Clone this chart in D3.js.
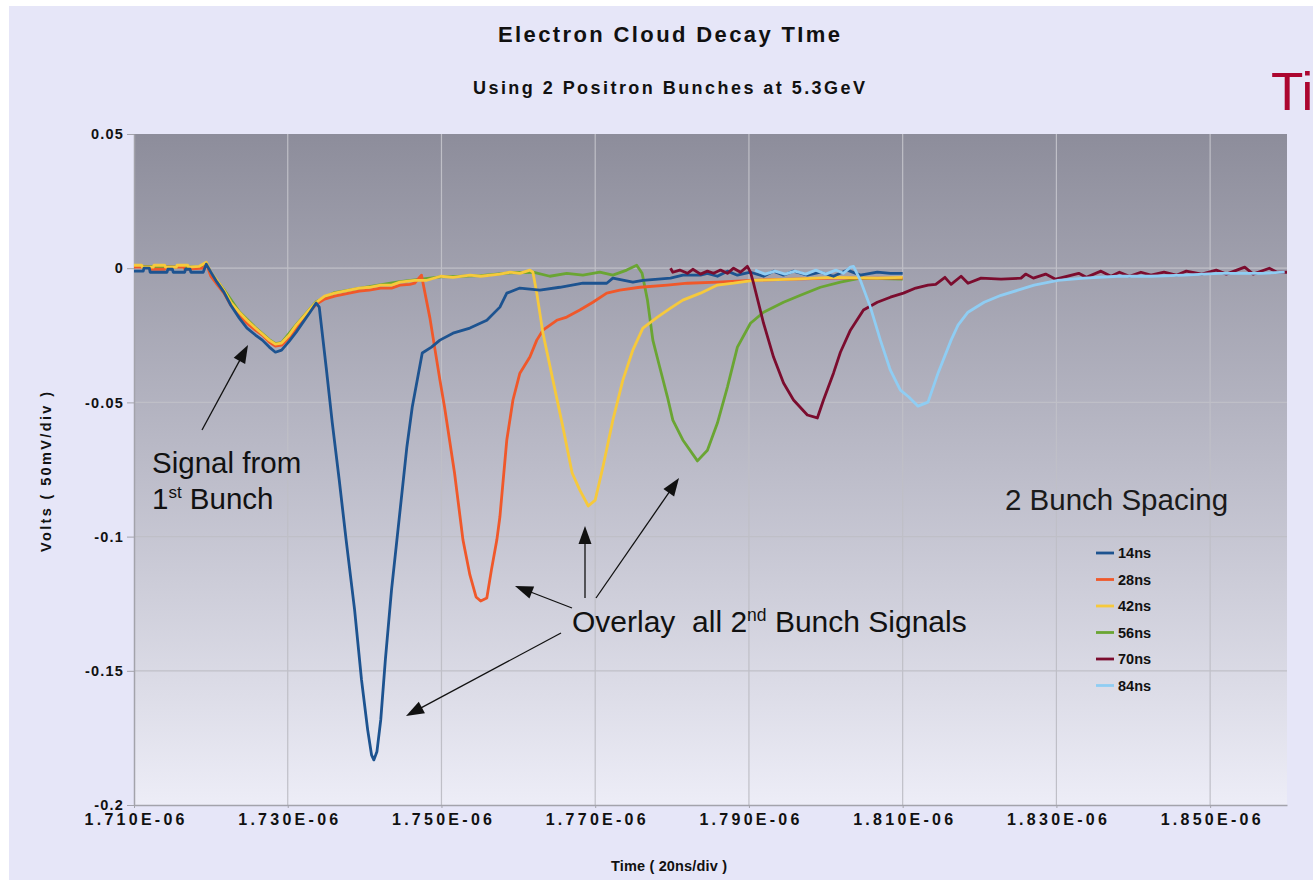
<!DOCTYPE html>
<html>
<head>
<meta charset="utf-8">
<script src="https://cdn.jsdelivr.net/npm/d3@7"></script>
<style>
  body { margin: 0; background: #fff; }
  text { font-family: "Liberation Sans", Arial, sans-serif; }
</style>
</head>
<body>
<script>
'use strict';

// times are in ns (1710 = 1.710E-06 s), values in volts
const seriesNames = ["14ns", "28ns", "42ns", "56ns", "70ns", "84ns"];
const seriesColors = ["#1d5390", "#f0582a", "#f6c93c", "#6aa533", "#7b0c2e", "#8fcdf3"];
// drawing order, back to front
const drawOrder = [3, 1, 2, 0, 4, 5];

const xTicks = [1710, 1730, 1750, 1770, 1790, 1810, 1830, 1850];
const xTickLabels = ["1.710E-06", "1.730E-06", "1.750E-06", "1.770E-06", "1.790E-06", "1.810E-06", "1.830E-06", "1.850E-06"];
const yTicks = [0.05, 0, -0.05, -0.1, -0.15, -0.2];
const yTickLabels = ["0.05", "0", "-0.05", "-0.1", "-0.15", "-0.2"];

const trace14 = [
  [1710.0,-0.0011],[1711.2,-0.0011],[1711.3,0.0000],[1712.0,0.0000],[1712.1,-0.0015],[1714.3,-0.0015],
  [1714.4,-0.0004],[1715.0,-0.0004],[1715.1,-0.0015],[1716.6,-0.0015],[1716.7,-0.0004],[1717.3,-0.0004],
  [1717.4,-0.0015],[1719.0,-0.0015],[1719.4,0.0015],[1720.0,-0.0015],[1720.8,-0.0052],[1721.7,-0.0089],
  [1722.6,-0.0138],[1723.7,-0.0186],[1724.7,-0.0223],[1725.8,-0.0249],[1726.7,-0.0268],[1727.6,-0.0294],
  [1728.4,-0.0313],[1729.2,-0.0305],[1730.2,-0.0272],[1731.1,-0.0238],[1732.0,-0.0201],[1732.9,-0.0164],
  [1733.7,-0.0130],[1734.1,-0.0145],[1735.0,-0.0369],[1735.8,-0.0577],[1736.7,-0.0789],[1737.6,-0.1013],
  [1738.7,-0.1273],[1739.6,-0.1534],[1740.4,-0.1720],[1740.9,-0.1813],[1741.2,-0.1832],[1741.6,-0.1802],
  [1742.1,-0.1683],[1742.7,-0.1459],[1743.5,-0.1199],[1744.2,-0.1013],[1745.5,-0.0666],[1746.2,-0.0517],
  [1747.5,-0.0316],[1748.7,-0.0294],[1749.8,-0.0268],[1751.5,-0.0242],[1753.7,-0.0223],[1755.9,-0.0194],
  [1757.6,-0.0145],[1758.5,-0.0093],[1760.2,-0.0074],[1762.8,-0.0082],[1765.4,-0.0071],[1768.4,-0.0056],
  [1771.5,-0.0056],[1772.3,-0.0037],[1774.9,-0.0052],[1776.2,-0.0045],[1779.8,-0.0037],[1781.4,-0.0026],
  [1783.7,-0.0026],[1784.6,-0.0019],[1785.9,-0.0030],[1787.2,-0.0011],[1788.5,-0.0026],[1790.2,-0.0015],
  [1791.9,-0.0030],[1793.2,-0.0011],[1794.5,-0.0026],[1795.8,-0.0011],[1797.6,-0.0026],[1799.3,-0.0015],
  [1801.0,-0.0030],[1802.8,-0.0007],[1804.5,-0.0026],[1806.7,-0.0015],[1808.4,-0.0019],[1810.0,-0.0019]
];

const trace28 = [
  [1710.0,0.0004],[1712.0,0.0004],[1712.1,-0.0004],[1714.0,-0.0004],[1714.1,0.0004],[1716.5,0.0004],
  [1716.6,-0.0004],[1719.0,0.0000],[1719.4,0.0018],[1720.0,-0.0030],[1720.8,-0.0060],[1721.7,-0.0093],
  [1722.6,-0.0138],[1723.7,-0.0175],[1724.7,-0.0205],[1725.8,-0.0231],[1726.7,-0.0249],[1727.6,-0.0275],
  [1728.4,-0.0290],[1729.2,-0.0287],[1730.2,-0.0257],[1731.1,-0.0223],[1732.0,-0.0190],[1732.9,-0.0160],
  [1733.7,-0.0135],[1734.8,-0.0115],[1736.1,-0.0104],[1738.0,-0.0093],[1739.3,-0.0085],[1740.6,-0.0082],
  [1742.1,-0.0074],[1743.5,-0.0074],[1744.6,-0.0063],[1745.9,-0.0060],[1746.5,-0.0056],[1747.4,-0.0026],
  [1748.5,-0.0186],[1749.8,-0.0417],[1750.4,-0.0517],[1751.7,-0.0763],[1752.8,-0.1013],[1753.7,-0.1143],
  [1754.5,-0.1225],[1755.1,-0.1240],[1755.9,-0.1229],[1756.5,-0.1124],[1757.2,-0.1013],[1757.6,-0.0927],
  [1758.5,-0.0640],[1759.3,-0.0491],[1760.2,-0.0391],[1761.5,-0.0331],[1762.4,-0.0268],[1763.2,-0.0231],
  [1765.0,-0.0194],[1766.3,-0.0182],[1768.0,-0.0156],[1769.7,-0.0127],[1771.5,-0.0093],[1773.2,-0.0082],
  [1775.8,-0.0071],[1779.4,-0.0063],[1782.0,-0.0056],[1785.9,-0.0052],[1790.2,-0.0045],[1795.8,-0.0041],
  [1801.0,-0.0037],[1806.7,-0.0037],[1810.0,-0.0037]
];

const trace42 = [
  [1710.0,0.0011],[1711.0,0.0011],[1711.1,0.0004],[1712.5,0.0004],[1712.6,0.0011],[1714.0,0.0011],
  [1714.1,0.0004],[1715.5,0.0004],[1715.6,0.0011],[1717.0,0.0011],[1717.1,0.0004],[1718.5,0.0007],
  [1719.4,0.0022],[1720.0,-0.0015],[1720.8,-0.0045],[1721.7,-0.0082],[1722.6,-0.0127],[1723.7,-0.0164],
  [1724.7,-0.0194],[1725.8,-0.0223],[1726.7,-0.0245],[1727.6,-0.0268],[1728.4,-0.0283],[1729.2,-0.0279],
  [1730.2,-0.0249],[1731.1,-0.0212],[1732.0,-0.0182],[1732.9,-0.0152],[1733.7,-0.0127],[1734.8,-0.0104],
  [1736.1,-0.0093],[1738.0,-0.0082],[1739.3,-0.0074],[1740.6,-0.0071],[1742.1,-0.0063],[1743.5,-0.0063],
  [1744.6,-0.0052],[1746.5,-0.0045],[1748.1,-0.0045],[1749.9,-0.0030],[1751.5,-0.0034],[1753.7,-0.0026],
  [1755.1,-0.0030],[1757.6,-0.0022],[1758.9,-0.0015],[1760.2,-0.0019],[1761.5,-0.0007],[1761.9,-0.0015],
  [1762.4,-0.0093],[1763.2,-0.0242],[1764.5,-0.0417],[1765.8,-0.0592],[1767.0,-0.0763],[1768.0,-0.0827],
  [1769.1,-0.0886],[1770.0,-0.0864],[1771.0,-0.0741],[1772.3,-0.0566],[1773.6,-0.0417],[1774.9,-0.0305],
  [1776.2,-0.0223],[1778.1,-0.0182],[1779.8,-0.0149],[1781.4,-0.0119],[1783.7,-0.0093],[1785.9,-0.0063],
  [1788.0,-0.0056],[1790.6,-0.0045],[1795.8,-0.0041],[1801.0,-0.0034],[1806.7,-0.0037],[1810.0,-0.0034]
];

const trace56 = [
  [1710.0,0.0007],[1719.0,0.0004],[1719.4,0.0018],[1720.0,-0.0018],[1721.7,-0.0080],[1723.7,-0.0162],
  [1725.8,-0.0221],[1727.6,-0.0266],[1728.4,-0.0281],[1729.2,-0.0277],[1731.1,-0.0210],[1733.7,-0.0125],
  [1736.1,-0.0091],[1740.6,-0.0069],[1744.6,-0.0050],[1749.9,-0.0032],[1755.1,-0.0028],[1759.0,-0.0017],
  [1761.9,-0.0015],[1764.1,-0.0030],[1766.3,-0.0019],[1768.4,-0.0026],[1770.6,-0.0015],[1772.3,-0.0026],
  [1774.1,-0.0007],[1775.4,0.0011],[1776.1,-0.0019],[1776.8,-0.0119],[1777.5,-0.0268],[1778.4,-0.0369],
  [1779.4,-0.0480],[1780.1,-0.0566],[1781.4,-0.0640],[1783.3,-0.0718],[1784.6,-0.0678],[1785.9,-0.0577],
  [1787.2,-0.0443],[1788.5,-0.0294],[1790.2,-0.0205],[1791.9,-0.0164],[1794.5,-0.0127],[1796.7,-0.0101],
  [1799.3,-0.0071],[1801.9,-0.0052],[1804.5,-0.0037],[1810.0,-0.0041]
];

const trace70 = [
  [1779.8,0.0000],[1780.1,-0.0015],[1781.0,-0.0007],[1782.0,-0.0019],[1782.7,-0.0004],[1783.7,-0.0022],
  [1784.6,-0.0011],[1785.4,-0.0019],[1786.3,-0.0007],[1787.2,-0.0019],[1788.0,0.0000],[1788.9,-0.0015],
  [1789.8,0.0007],[1790.2,-0.0015],[1790.6,-0.0056],[1791.9,-0.0205],[1793.2,-0.0331],[1794.5,-0.0428],
  [1795.8,-0.0491],[1797.6,-0.0547],[1798.9,-0.0558],[1799.7,-0.0491],[1801.0,-0.0391],[1801.9,-0.0313],
  [1803.2,-0.0231],[1804.9,-0.0156],[1806.7,-0.0127],[1808.4,-0.0108],[1810.1,-0.0093],[1811.7,-0.0074],
  [1813.3,-0.0063],[1814.3,-0.0060],[1815.5,-0.0034],[1816.3,-0.0060],[1817.6,-0.0030],[1818.5,-0.0056],
  [1820.2,-0.0037],[1822.8,-0.0041],[1825.4,-0.0037],[1826.0,-0.0022],[1827.0,-0.0037],[1828.6,-0.0022],
  [1829.9,-0.0041],[1832.9,-0.0019],[1833.9,-0.0034],[1835.8,-0.0011],[1837.1,-0.0030],[1838.2,-0.0015],
  [1839.5,-0.0030],[1841.0,-0.0015],[1842.3,-0.0026],[1844.0,-0.0015],[1845.6,-0.0026],[1846.9,-0.0011],
  [1848.9,-0.0022],[1850.8,-0.0007],[1852.1,-0.0022],[1854.5,0.0004],[1855.6,-0.0022],[1857.7,0.0000],
  [1858.7,-0.0015],[1860.0,-0.0015]
];

const trace84 = [
  [1790.8,-0.0007],[1792.1,-0.0022],[1793.4,-0.0011],[1794.7,-0.0022],[1796.0,-0.0011],[1797.4,-0.0022],
  [1798.7,-0.0007],[1800.0,-0.0022],[1801.3,-0.0007],[1802.3,-0.0019],[1803.2,0.0004],[1803.6,0.0007],
  [1804.5,-0.0045],[1805.8,-0.0145],[1807.1,-0.0268],[1808.4,-0.0380],[1809.7,-0.0454],[1810.8,-0.0480],
  [1812.0,-0.0514],[1813.3,-0.0499],[1814.6,-0.0391],[1816.3,-0.0268],[1817.2,-0.0212],[1818.5,-0.0164],
  [1820.6,-0.0127],[1822.8,-0.0101],[1825.0,-0.0082],[1827.1,-0.0063],[1830.2,-0.0045],[1833.6,-0.0037],
  [1838.0,-0.0030],[1842.3,-0.0030],[1846.6,-0.0026],[1851.1,-0.0019],[1856.7,-0.0019],[1859.7,-0.0015]
];

const traces = [trace14, trace28, trace42, trace56, trace70, trace84];

let width = 1313;
let height = 880;

let svg = d3.select('body')
  .append('svg')
  .attr('width', width)
  .attr('height', height);

// slide background
svg.append('rect')
  .attr('x', 9).attr('y', 6)
  .attr('width', width - 9).attr('height', height - 6)
  .attr('fill', '#e6e6f8');

let xScale = d3.scaleLinear().domain([1710, 1860]).range([134, 1287]);
let yScale = d3.scaleLinear().domain([-0.2, 0.05]).range([805, 134]);

// plot background gradient
let defs = svg.append('defs');
let grad = defs.append('linearGradient')
  .attr('id', 'plotbg')
  .attr('x1', 0).attr('y1', 0).attr('x2', 0).attr('y2', 1);
grad.append('stop').attr('offset', '0%').attr('stop-color', '#8d8d9b');
grad.append('stop').attr('offset', '50%').attr('stop-color', '#bcbcc9');
grad.append('stop').attr('offset', '100%').attr('stop-color', '#ededf7');

defs.append('clipPath').attr('id', 'plotclip')
  .append('rect')
  .attr('x', xScale(1710)).attr('y', yScale(0.05))
  .attr('width', xScale(1860) - xScale(1710))
  .attr('height', yScale(-0.2) - yScale(0.05));

svg.append('rect')
  .attr('x', xScale(1710)).attr('y', yScale(0.05))
  .attr('width', xScale(1860) - xScale(1710))
  .attr('height', yScale(-0.2) - yScale(0.05))
  .attr('fill', 'url(#plotbg)');

// gridlines
svg.append('g').selectAll('line')
  .data(xTicks.slice(1))
  .enter().append('line')
  .attr('x1', d => xScale(d)).attr('x2', d => xScale(d))
  .attr('y1', yScale(0.05)).attr('y2', yScale(-0.2))
  .attr('stroke', '#bfbfc7').attr('stroke-width', 1.2);

svg.append('g').selectAll('line')
  .data(yTicks.slice(1, -1))
  .enter().append('line')
  .attr('x1', xScale(1710)).attr('x2', xScale(1860))
  .attr('y1', d => yScale(d)).attr('y2', d => yScale(d))
  .attr('stroke', '#bfbfc7').attr('stroke-width', 1.2);

// axes
let yAxis = d3.axisLeft(yScale)
  .tickValues(yTicks)
  .tickFormat((d, i) => yTickLabels[i])
  .tickSize(7)
  .tickPadding(3)
  .tickSizeOuter(0);

let xAxis = d3.axisBottom(xScale)
  .tickValues(xTicks)
  .tickFormat((d, i) => xTickLabels[i])
  .tickSize(3)
  .tickPadding(6)
  .tickSizeOuter(0);

let gy = svg.append('g')
  .attr('transform', 'translate(' + xScale(1710) + ',0)')
  .call(yAxis);
let gx = svg.append('g')
  .attr('transform', 'translate(0,' + yScale(-0.2) + ')')
  .call(xAxis);

[gx, gy].forEach(g => {
  g.select('.domain').attr('stroke', '#a3a3ab').attr('stroke-width', 1.5);
  g.selectAll('.tick line').attr('stroke', '#a3a3ab');
  g.selectAll('.tick text')
    .attr('fill', '#111')
    .style('font-family', '"Liberation Sans", Arial, sans-serif')
    .style('font-weight', 'bold')
    .style('font-size', '14.5px');
});
gy.selectAll('.tick text').style('letter-spacing', '1.2px');
gx.selectAll('.tick text')
  .style('font-size', '16px')
  .attr('textLength', 100)
  .attr('lengthAdjust', 'spacing');

// data traces
let line = d3.line()
  .x(d => xScale(d[0]))
  .y(d => yScale(d[1]));

svg.append('g')
  .attr('clip-path', 'url(#plotclip)')
  .selectAll('path')
  .data(drawOrder)
  .enter().append('path')
  .attr('d', i => line(traces[i]))
  .attr('fill', 'none')
  .attr('stroke', i => seriesColors[i])
  .attr('stroke-width', 2.8)
  .attr('stroke-linejoin', 'round');

// titles
svg.append('text')
  .attr('x', 669).attr('y', 42)
  .attr('text-anchor', 'middle')
  .attr('textLength', 342).attr('lengthAdjust', 'spacing')
  .style('font-size', '22px').style('font-weight', 'bold')
  .attr('fill', '#111')
  .text('Electron Cloud Decay TIme');

svg.append('text')
  .attr('x', 669).attr('y', 94)
  .attr('text-anchor', 'middle')
  .attr('textLength', 392).attr('lengthAdjust', 'spacing')
  .style('font-size', '18px').style('font-weight', 'bold')
  .attr('fill', '#111')
  .text('Using 2 Positron Bunches at 5.3GeV');

svg.append('text')
  .attr('x', 669).attr('y', 871)
  .attr('text-anchor', 'middle')
  .attr('textLength', 116).attr('lengthAdjust', 'spacing')
  .style('font-size', '14.5px').style('font-weight', 'bold').attr('fill', '#111')
  .text('Time ( 20ns/div )');

svg.append('text')
  .attr('transform', 'translate(51,472) rotate(-90)')
  .attr('text-anchor', 'middle')
  .attr('textLength', 160).attr('lengthAdjust', 'spacing')
  .style('font-size', '14.5px').style('font-weight', 'bold').attr('fill', '#111')
  .text('Volts ( 50mV/div )');

// cropped slide heading at right edge
svg.append('text')
  .attr('x', 1271).attr('y', 110)
  .style('font-size', '53px').attr('fill', '#ac0630')
  .text('Ti');

// legend
svg.append('text')
  .attr('x', 1005).attr('y', 510)
  .style('font-size', '29.5px').attr('fill', '#1a1a1a')
  .text('2 Bunch Spacing');

let legend = svg.append('g').selectAll('g')
  .data(seriesNames)
  .enter().append('g')
  .attr('transform', (d, i) => 'translate(1096,' + (553 + i * 26.5) + ')');
legend.append('line')
  .attr('x1', 0).attr('x2', 18)
  .attr('stroke', (d, i) => seriesColors[i])
  .attr('stroke-width', 2.8);
legend.append('text')
  .attr('x', 22).attr('dy', '0.36em')
  .style('font-size', '14.5px').style('font-weight', 'bold').attr('fill', '#111')
  .text(d => d);

// annotations
function arrow(x1, y1, x2, y2) {
  let dx = x2 - x1, dy = y2 - y1;
  let len = Math.sqrt(dx * dx + dy * dy);
  let ux = dx / len, uy = dy / len;
  let hl = 18, hw = 6.5;
  let bx = x2 - ux * hl, by = y2 - uy * hl;
  svg.append('line')
    .attr('x1', x1).attr('y1', y1).attr('x2', bx + ux * 2).attr('y2', by + uy * 2)
    .attr('stroke', '#111').attr('stroke-width', 1.3);
  svg.append('path')
    .attr('d', 'M' + x2 + ',' + y2 +
      'L' + (bx - uy * hw) + ',' + (by + ux * hw) +
      'L' + (bx + uy * hw) + ',' + (by - ux * hw) + 'Z')
    .attr('fill', '#111');
}

let ann1 = svg.append('text').style('font-size', '29.5px').attr('fill', '#111');
ann1.append('tspan').attr('x', 152).attr('y', 473).text('Signal from');
ann1.append('tspan').attr('x', 152).attr('y', 509).text('1');
ann1.append('tspan').attr('dy', -11).style('font-size', '17px').text('st');
ann1.append('tspan').attr('dy', 11).text(' Bunch');
arrow(202, 430, 248, 345);

let ann2 = svg.append('text').style('font-size', '30px').attr('fill', '#111')
  .style('white-space', 'pre');
ann2.append('tspan').attr('x', 572).attr('y', 632).text('Overlay  all 2');
ann2.append('tspan').attr('dy', -11).style('font-size', '17.5px').text('nd');
ann2.append('tspan').attr('dy', 11).text(' Bunch Signals');

arrow(572, 608, 515, 586);
arrow(585, 598, 585, 526);
arrow(596, 598, 679, 478);
arrow(561, 633, 406, 716);
</script>
</body>
</html>
